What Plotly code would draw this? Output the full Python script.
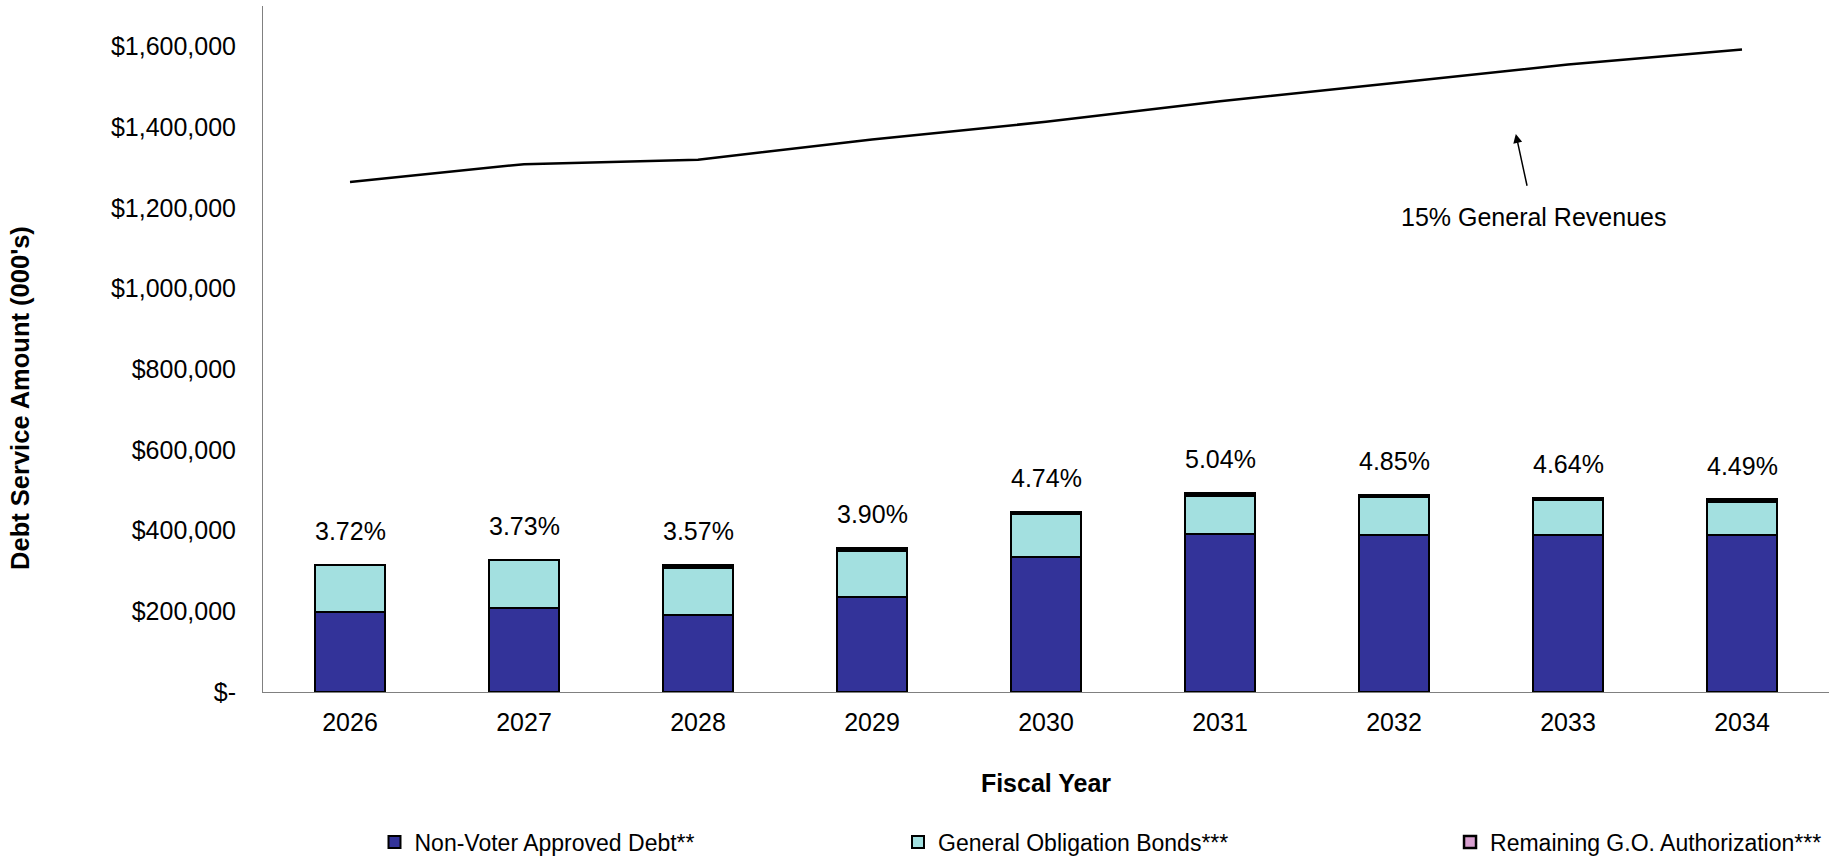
import plotly.graph_objects as go

years = ["2026", "2027", "2028", "2029", "2030", "2031", "2032", "2033", "2034"]
non_voter = [198500, 209000, 190500, 235000, 335000, 391000, 389000, 389000, 389000]
go_bonds = [115500, 117500, 118500, 116000, 106500, 96000, 94000, 87000, 83000]
remaining = [None, None, 5000, 5000, 5000, 5000, 5000, 5000, 5000]
revenue_15 = [1264000, 1308000, 1319000, 1369000, 1413000, 1464000, 1509000, 1555000, 1592000]
pct_labels = ["3.72%", "3.73%", "3.57%", "3.90%", "4.74%", "5.04%", "4.85%", "4.64%", "4.49%"]
ytick_vals = [0, 200000, 400000, 600000, 800000, 1000000, 1200000, 1400000, 1600000]
ytick_text = ["$-", "$200,000", "$400,000", "$600,000", "$800,000", "$1,000,000",
              "$1,200,000", "$1,400,000", "$1,600,000"]

FONT = "Liberation Sans, Arial, sans-serif"

fig = go.Figure()
fig.add_trace(go.Bar(x=years, y=non_voter, name="Non-Voter Approved Debt**", legend="legend",
                     marker=dict(color="#333399", line=dict(color="black", width=2)), width=0.4))
fig.add_trace(go.Bar(x=years, y=go_bonds, name="General Obligation Bonds***", legend="legend2",
                     marker=dict(color="#A3E0E0", line=dict(color="black", width=2)), width=0.4))
fig.add_trace(go.Bar(x=years, y=remaining, name="Remaining G.O. Authorization***", legend="legend3",
                     marker=dict(color="#D8A0D0", line=dict(color="black", width=2.5)), width=0.4))
fig.add_trace(go.Scatter(x=years, y=revenue_15, mode="lines", showlegend=False,
                         line=dict(color="black", width=2.5)))

totals = [a + b + (c or 0) for a, b, c in zip(non_voter, go_bonds, remaining)]
for i, (t, lab) in enumerate(zip(totals, pct_labels)):
    fig.add_annotation(x=i, y=t, xref="x", yref="y", text=lab, showarrow=False, yshift=34,
                       font=dict(family=FONT, size=25, color="black"))

fig.add_annotation(x=6.7, y=1383000, xref="x", yref="y", text="15% General Revenues",
                   showarrow=True, axref="pixel", ayref="pixel", ax=18, ay=83,
                   arrowhead=2, arrowsize=1.2, arrowwidth=1.5, arrowcolor="black",
                   startstandoff=16,
                   font=dict(family=FONT, size=25, color="black"))

# y-axis title (placed below centre, as in the original)
fig.add_annotation(x=-0.1552, y=0.4286, xref="paper", yref="paper",
                   text="<b>Debt Service Amount (000's)</b>", textangle=-90,
                   showarrow=False, xanchor="center", yanchor="middle",
                   font=dict(family=FONT, size=25.5, color="black"))

leg_common = dict(orientation="h", yref="container", y=0.0175, yanchor="middle",
                  xanchor="left",
                  font=dict(family=FONT, size=23, color="black"), bgcolor="rgba(0,0,0,0)")
fig.update_layout(
    barmode="stack",
    width=1832, height=857,
    margin=dict(l=263, r=3, t=6, b=165),
    paper_bgcolor="white", plot_bgcolor="white",
    font=dict(family=FONT, size=25, color="black"),
    showlegend=True,
    legend=dict(x=0.0712, **leg_common),
    legend2=dict(x=0.4055, **leg_common),
    legend3=dict(x=0.758, **leg_common),
)
fig.update_xaxes(type="category", range=[-0.5, 8.5], showline=True, linecolor="#808080",
                 linewidth=1, showgrid=False, ticks="", ticklabelstandoff=8,
                 automargin=False,
                 tickfont=dict(family=FONT, size=25),
                 title=dict(text="<b>Fiscal Year</b>", standoff=39,
                            font=dict(family=FONT, size=25)))
fig.update_yaxes(range=[0, 1700000], showline=True, linecolor="#808080", linewidth=1,
                 showgrid=False, zeroline=False, ticks="", tickvals=ytick_vals,
                 ticktext=ytick_text, ticklabelstandoff=21, automargin=False,
                 tickfont=dict(family=FONT, size=25))

fig.write_html("out.html")
